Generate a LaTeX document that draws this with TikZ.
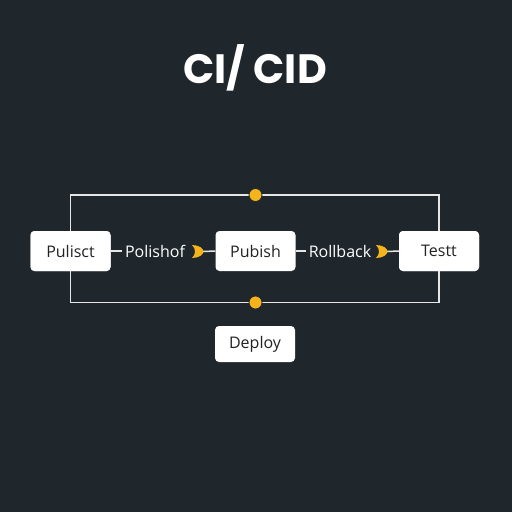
\documentclass[tikz,border=0pt]{standalone}
\usepackage{fontspec}
\setmainfont{Open Sans}
\newfontfamily\titlefont{Poppins}
\definecolor{bg}{HTML}{1F272D}
\definecolor{wire}{HTML}{E6E6E6}
\definecolor{dotc}{HTML}{F5B51A}
\definecolor{boxtext}{HTML}{222222}
\tikzset{
  box/.style={draw=none, fill=white, rounded corners=4pt, minimum width=80pt, minimum height=40pt, inner sep=0pt, font=\fontsize{16}{18}\selectfont, text=boxtext},
  wirelabel/.style={font=\fontsize{16}{18}\selectfont, text=white, inner sep=2.5pt},
  wireline/.style={draw=wire, line width=1.5pt},
  dotnode/.style={circle, fill=dotc, draw=bg, line width=0.8pt, minimum size=13pt, inner sep=0pt},
  chevnode/.style={inner sep=0pt, minimum size=12pt},
}
\begin{document}
\begin{tikzpicture}[x=1pt,y=-1pt]
\fill[bg] (0,0) rectangle (512,512);
\useasboundingbox (0,0) rectangle (512,512);
\node[font=\titlefont\bfseries\fontsize{41}{44}\selectfont, text=white] (title) at (255,68) {CI/ CID};

\node[box] (p1) at (70.5,251) {Pulisct};
\node[box] (p2) at (255.5,251) {Pubish};
\node[box] (t1) at (439,251) {Testt};
\node[box, minimum height=36pt] (dep) at (255,344) {Deploy};

\node[dotnode] (d1) at (255.5,195) {};
\node[dotnode] (d2) at (255.5,302.5) {};

\node[wirelabel] (l1) at (155,251) {Polishof};
\node[wirelabel] (l2) at (340,251) {Rollback};
\node[chevnode] (c1) at (197,251.5) {};
\node[chevnode] (c2) at (381,251.5) {};

\draw[wireline] (p1.north) |- (d1.west);
\draw[wireline] (d1.east) -| (t1.north);
\draw[wireline] (p1.south) |- (d2.west);
\draw[wireline] (d2.east) -| (t1.south);
\draw[wireline] (p1.east) -- (l1.west);
\draw[wireline] (c1.east) -- (p2.west);
\draw[wireline] (p2.east) -- (l2.west);
\draw[wireline] (c2.east) -- (t1.west);

\foreach \c in {c1,c2}{
  \fill[dotc, shift={(\c)}] (-5,-6.5) .. controls (2,-6.5) and (6.5,-3) .. (6.5,0) .. controls (6.5,3) and (2,6.5) .. (-5,6.5) .. controls (-1,3) and (-1,-3) .. (-5,-6.5) -- cycle;
}
% redraw nodes on top of the frame lines
\node[box] at (p1) {Pulisct};
\node[box] at (t1) {Testt};
\node[dotnode] at (d1) {};
\node[dotnode] at (d2) {};
\end{tikzpicture}
\end{document}
